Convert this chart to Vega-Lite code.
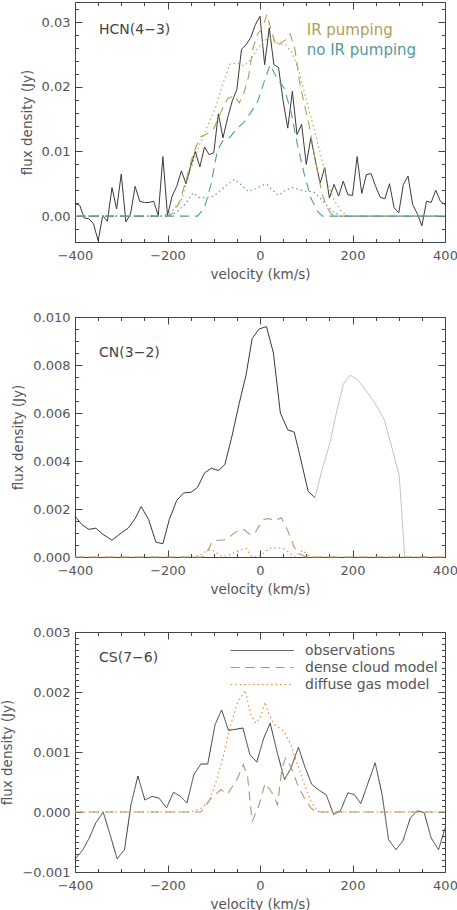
{
  "$schema": "https://vega.github.io/schema/vega-lite/v6.json",
  "padding": {"left": 0, "top": 1, "right": 0, "bottom": 2},
  "bounds": "flush",
  "spacing": 75,
  "resolve": {"scale": {"color": "independent", "strokeDash": "independent"}, "legend": {"color": "independent", "strokeDash": "independent"}},
  "config": {
    "font": "DejaVu Sans",
    "view": {"stroke": "#444444", "strokeWidth": 1},
    "axis": {"grid": false, "domain": false, "labelFontSize": 13, "labelColor": "#555555", "labelFont": "DejaVu Sans", "titleFont": "DejaVu Sans", "titleFontSize": 13.5, "titleFontWeight": "normal", "titleColor": "#555555", "tickColor": "#444444", "tickWidth": 1, "labelFlush": false, "labelOverlap": false},
    "line": {"strokeWidth": 1}
  },
  "datasets": {
    "p1obs": [
      {"v": -400, "flux": 0.0019}, {"v": -390, "flux": 0.0017}, {"v": -380, "flux": -0.0003}, {"v": -370, "flux": -0.0004}, {"v": -360, "flux": -0.0012}, {"v": -350, "flux": -0.0038}, {"v": -340, "flux": 0.0001}, {"v": -330, "flux": -0.0008}, {"v": -320, "flux": 0.0044}, {"v": -310, "flux": 0.0011}, {"v": -300, "flux": 0.0065}, {"v": -290, "flux": -0.0009}, {"v": -280, "flux": 0.0003}, {"v": -270, "flux": 0.0046}, {"v": -260, "flux": 0.0023}, {"v": -250, "flux": 0.0021}, {"v": -240, "flux": 0.0021}, {"v": -230, "flux": 0.0023}, {"v": -220, "flux": 0.0001}, {"v": -210, "flux": 0.0092}, {"v": -200, "flux": 0.0001}, {"v": -190, "flux": 0.0031}, {"v": -180, "flux": 0.0046}, {"v": -170, "flux": 0.0070}, {"v": -160, "flux": 0.0050}, {"v": -150, "flux": 0.0077}, {"v": -140, "flux": 0.0100}, {"v": -130, "flux": 0.0076}, {"v": -120, "flux": 0.0107}, {"v": -110, "flux": 0.0095}, {"v": -100, "flux": 0.0098}, {"v": -90, "flux": 0.0158}, {"v": -80, "flux": 0.0121}, {"v": -70, "flux": 0.0152}, {"v": -60, "flux": 0.0178}, {"v": -50, "flux": 0.0196}, {"v": -40, "flux": 0.0258}, {"v": -30, "flux": 0.0265}, {"v": -20, "flux": 0.0276}, {"v": -10, "flux": 0.0296}, {"v": 0, "flux": 0.0309}, {"v": 10, "flux": 0.0234}, {"v": 20, "flux": 0.0291}, {"v": 30, "flux": 0.0234}, {"v": 40, "flux": 0.0230}, {"v": 50, "flux": 0.0178}, {"v": 60, "flux": 0.0136}, {"v": 70, "flux": 0.0193}, {"v": 80, "flux": 0.0126}, {"v": 90, "flux": 0.0142}, {"v": 100, "flux": 0.0080}, {"v": 110, "flux": 0.0121}, {"v": 120, "flux": 0.0085}, {"v": 130, "flux": 0.0051}, {"v": 140, "flux": 0.0075}, {"v": 150, "flux": 0.0028}, {"v": 160, "flux": 0.0049}, {"v": 170, "flux": 0.0031}, {"v": 180, "flux": 0.0054}, {"v": 190, "flux": 0.0033}, {"v": 200, "flux": 0.0032}, {"v": 210, "flux": 0.0092}, {"v": 220, "flux": 0.0035}, {"v": 230, "flux": 0.0064}, {"v": 240, "flux": 0.0066}, {"v": 250, "flux": 0.0046}, {"v": 260, "flux": 0.0029}, {"v": 270, "flux": 0.0027}, {"v": 280, "flux": 0.0050}, {"v": 290, "flux": 0.0013}, {"v": 300, "flux": 0.0005}, {"v": 310, "flux": 0.0049}, {"v": 320, "flux": 0.0062}, {"v": 330, "flux": 0.0018}, {"v": 340, "flux": 0.0004}, {"v": 350, "flux": -0.0015}, {"v": 360, "flux": 0.0023}, {"v": 370, "flux": 0.0021}, {"v": 380, "flux": 0.0040}, {"v": 390, "flux": 0.0023}, {"v": 400, "flux": 0.0018}
    ],
    "p1mod": [
      {"model": "IR pumping", "comp": "dense", "v": -400, "flux": 0}, {"model": "IR pumping", "comp": "dense", "v": -200, "flux": 0}, {"model": "IR pumping", "comp": "dense", "v": -190, "flux": 0.0004}, {"model": "IR pumping", "comp": "dense", "v": -175, "flux": 0.002}, {"model": "IR pumping", "comp": "dense", "v": -160, "flux": 0.0055}, {"model": "IR pumping", "comp": "dense", "v": -145, "flux": 0.0095}, {"model": "IR pumping", "comp": "dense", "v": -130, "flux": 0.0122}, {"model": "IR pumping", "comp": "dense", "v": -115, "flux": 0.0127}, {"model": "IR pumping", "comp": "dense", "v": -100, "flux": 0.0135}, {"model": "IR pumping", "comp": "dense", "v": -85, "flux": 0.016}, {"model": "IR pumping", "comp": "dense", "v": -70, "flux": 0.0182}, {"model": "IR pumping", "comp": "dense", "v": -55, "flux": 0.0186}, {"model": "IR pumping", "comp": "dense", "v": -45, "flux": 0.0175}, {"model": "IR pumping", "comp": "dense", "v": -35, "flux": 0.019}, {"model": "IR pumping", "comp": "dense", "v": -25, "flux": 0.0215}, {"model": "IR pumping", "comp": "dense", "v": -15, "flux": 0.026}, {"model": "IR pumping", "comp": "dense", "v": -5, "flux": 0.0282}, {"model": "IR pumping", "comp": "dense", "v": 5, "flux": 0.029}, {"model": "IR pumping", "comp": "dense", "v": 15, "flux": 0.0312}, {"model": "IR pumping", "comp": "dense", "v": 25, "flux": 0.0285}, {"model": "IR pumping", "comp": "dense", "v": 35, "flux": 0.0263}, {"model": "IR pumping", "comp": "dense", "v": 45, "flux": 0.0268}, {"model": "IR pumping", "comp": "dense", "v": 55, "flux": 0.0272}, {"model": "IR pumping", "comp": "dense", "v": 65, "flux": 0.0282}, {"model": "IR pumping", "comp": "dense", "v": 75, "flux": 0.026}, {"model": "IR pumping", "comp": "dense", "v": 85, "flux": 0.021}, {"model": "IR pumping", "comp": "dense", "v": 95, "flux": 0.0175}, {"model": "IR pumping", "comp": "dense", "v": 105, "flux": 0.0145}, {"model": "IR pumping", "comp": "dense", "v": 115, "flux": 0.0105}, {"model": "IR pumping", "comp": "dense", "v": 125, "flux": 0.0065}, {"model": "IR pumping", "comp": "dense", "v": 135, "flux": 0.0033}, {"model": "IR pumping", "comp": "dense", "v": 145, "flux": 0.0013}, {"model": "IR pumping", "comp": "dense", "v": 155, "flux": 0.0003}, {"model": "IR pumping", "comp": "dense", "v": 165, "flux": 0}, {"model": "IR pumping", "comp": "dense", "v": 400, "flux": 0},
      {"model": "IR pumping", "comp": "diffuse", "v": -400, "flux": 0}, {"model": "IR pumping", "comp": "diffuse", "v": -210, "flux": 0}, {"model": "IR pumping", "comp": "diffuse", "v": -190, "flux": 0.0008}, {"model": "IR pumping", "comp": "diffuse", "v": -170, "flux": 0.0025}, {"model": "IR pumping", "comp": "diffuse", "v": -150, "flux": 0.0072}, {"model": "IR pumping", "comp": "diffuse", "v": -130, "flux": 0.0112}, {"model": "IR pumping", "comp": "diffuse", "v": -110, "flux": 0.0145}, {"model": "IR pumping", "comp": "diffuse", "v": -95, "flux": 0.017}, {"model": "IR pumping", "comp": "diffuse", "v": -80, "flux": 0.0205}, {"model": "IR pumping", "comp": "diffuse", "v": -65, "flux": 0.0235}, {"model": "IR pumping", "comp": "diffuse", "v": -50, "flux": 0.0237}, {"model": "IR pumping", "comp": "diffuse", "v": -35, "flux": 0.0232}, {"model": "IR pumping", "comp": "diffuse", "v": -20, "flux": 0.0242}, {"model": "IR pumping", "comp": "diffuse", "v": -5, "flux": 0.026}, {"model": "IR pumping", "comp": "diffuse", "v": 10, "flux": 0.0272}, {"model": "IR pumping", "comp": "diffuse", "v": 25, "flux": 0.0275}, {"model": "IR pumping", "comp": "diffuse", "v": 40, "flux": 0.0266}, {"model": "IR pumping", "comp": "diffuse", "v": 55, "flux": 0.0265}, {"model": "IR pumping", "comp": "diffuse", "v": 70, "flux": 0.0252}, {"model": "IR pumping", "comp": "diffuse", "v": 85, "flux": 0.0222}, {"model": "IR pumping", "comp": "diffuse", "v": 100, "flux": 0.018}, {"model": "IR pumping", "comp": "diffuse", "v": 115, "flux": 0.014}, {"model": "IR pumping", "comp": "diffuse", "v": 130, "flux": 0.0098}, {"model": "IR pumping", "comp": "diffuse", "v": 145, "flux": 0.0055}, {"model": "IR pumping", "comp": "diffuse", "v": 160, "flux": 0.0025}, {"model": "IR pumping", "comp": "diffuse", "v": 175, "flux": 0.0008}, {"model": "IR pumping", "comp": "diffuse", "v": 190, "flux": 0}, {"model": "IR pumping", "comp": "diffuse", "v": 400, "flux": 0},
      {"model": "no IR pumping", "comp": "dense", "v": -400, "flux": 0}, {"model": "no IR pumping", "comp": "dense", "v": -135, "flux": 0}, {"model": "no IR pumping", "comp": "dense", "v": -120, "flux": 0.0013}, {"model": "no IR pumping", "comp": "dense", "v": -106, "flux": 0.0049}, {"model": "no IR pumping", "comp": "dense", "v": -92, "flux": 0.0102}, {"model": "no IR pumping", "comp": "dense", "v": -80, "flux": 0.0117}, {"model": "no IR pumping", "comp": "dense", "v": -65, "flux": 0.0122}, {"model": "no IR pumping", "comp": "dense", "v": -50, "flux": 0.0135}, {"model": "no IR pumping", "comp": "dense", "v": -35, "flux": 0.0145}, {"model": "no IR pumping", "comp": "dense", "v": -20, "flux": 0.016}, {"model": "no IR pumping", "comp": "dense", "v": -5, "flux": 0.0177}, {"model": "no IR pumping", "comp": "dense", "v": 10, "flux": 0.021}, {"model": "no IR pumping", "comp": "dense", "v": 22, "flux": 0.0234}, {"model": "no IR pumping", "comp": "dense", "v": 35, "flux": 0.0215}, {"model": "no IR pumping", "comp": "dense", "v": 52, "flux": 0.0198}, {"model": "no IR pumping", "comp": "dense", "v": 67, "flux": 0.0162}, {"model": "no IR pumping", "comp": "dense", "v": 81, "flux": 0.011}, {"model": "no IR pumping", "comp": "dense", "v": 96, "flux": 0.0064}, {"model": "no IR pumping", "comp": "dense", "v": 110, "flux": 0.0028}, {"model": "no IR pumping", "comp": "dense", "v": 125, "flux": 0.0007}, {"model": "no IR pumping", "comp": "dense", "v": 135, "flux": 0}, {"model": "no IR pumping", "comp": "dense", "v": 400, "flux": 0},
      {"model": "no IR pumping", "comp": "diffuse", "v": -400, "flux": 0}, {"model": "no IR pumping", "comp": "diffuse", "v": -200, "flux": 0}, {"model": "no IR pumping", "comp": "diffuse", "v": -180, "flux": 0.0006}, {"model": "no IR pumping", "comp": "diffuse", "v": -160, "flux": 0.002}, {"model": "no IR pumping", "comp": "diffuse", "v": -145, "flux": 0.0036}, {"model": "no IR pumping", "comp": "diffuse", "v": -130, "flux": 0.0028}, {"model": "no IR pumping", "comp": "diffuse", "v": -115, "flux": 0.0029}, {"model": "no IR pumping", "comp": "diffuse", "v": -100, "flux": 0.0031}, {"model": "no IR pumping", "comp": "diffuse", "v": -85, "flux": 0.004}, {"model": "no IR pumping", "comp": "diffuse", "v": -70, "flux": 0.0049}, {"model": "no IR pumping", "comp": "diffuse", "v": -55, "flux": 0.0057}, {"model": "no IR pumping", "comp": "diffuse", "v": -40, "flux": 0.0048}, {"model": "no IR pumping", "comp": "diffuse", "v": -25, "flux": 0.0038}, {"model": "no IR pumping", "comp": "diffuse", "v": -10, "flux": 0.0042}, {"model": "no IR pumping", "comp": "diffuse", "v": 5, "flux": 0.0048}, {"model": "no IR pumping", "comp": "diffuse", "v": 15, "flux": 0.0049}, {"model": "no IR pumping", "comp": "diffuse", "v": 30, "flux": 0.0038}, {"model": "no IR pumping", "comp": "diffuse", "v": 40, "flux": 0.0032}, {"model": "no IR pumping", "comp": "diffuse", "v": 55, "flux": 0.004}, {"model": "no IR pumping", "comp": "diffuse", "v": 70, "flux": 0.0044}, {"model": "no IR pumping", "comp": "diffuse", "v": 85, "flux": 0.0041}, {"model": "no IR pumping", "comp": "diffuse", "v": 100, "flux": 0.0038}, {"model": "no IR pumping", "comp": "diffuse", "v": 115, "flux": 0.0038}, {"model": "no IR pumping", "comp": "diffuse", "v": 130, "flux": 0.0028}, {"model": "no IR pumping", "comp": "diffuse", "v": 145, "flux": 0.0016}, {"model": "no IR pumping", "comp": "diffuse", "v": 160, "flux": 0.0006}, {"model": "no IR pumping", "comp": "diffuse", "v": 175, "flux": 0}, {"model": "no IR pumping", "comp": "diffuse", "v": 400, "flux": 0}
    ],
    "p1lab": [
      {"model": "IR pumping", "v": 101, "flux": 0.0288},
      {"model": "no IR pumping", "v": 101, "flux": 0.0257}
    ],
    "p1title": [{"text": "HCN(4−3)", "v": -348, "flux": 0.0288}],
    "p2obs": [
      {"v": -400, "flux": 0.0017}, {"v": -385, "flux": 0.00135}, {"v": -370, "flux": 0.00115}, {"v": -355, "flux": 0.0012}, {"v": -340, "flux": 0.00095}, {"v": -320, "flux": 0.0007}, {"v": -300, "flux": 0.001}, {"v": -285, "flux": 0.0012}, {"v": -270, "flux": 0.0016}, {"v": -257, "flux": 0.0021}, {"v": -241, "flux": 0.00157}, {"v": -225, "flux": 0.00062}, {"v": -210, "flux": 0.00055}, {"v": -196, "flux": 0.00157}, {"v": -180, "flux": 0.00236}, {"v": -165, "flux": 0.00267}, {"v": -149, "flux": 0.0027}, {"v": -135, "flux": 0.0029}, {"v": -120, "flux": 0.0035}, {"v": -105, "flux": 0.0037}, {"v": -90, "flux": 0.0036}, {"v": -76, "flux": 0.00385}, {"v": -61, "flux": 0.005}, {"v": -45, "flux": 0.0064}, {"v": -30, "flux": 0.0076}, {"v": -17, "flux": 0.0091}, {"v": -2, "flux": 0.0095}, {"v": 14, "flux": 0.0096}, {"v": 29, "flux": 0.0085}, {"v": 44, "flux": 0.006}, {"v": 60, "flux": 0.0053}, {"v": 74, "flux": 0.0052}, {"v": 89, "flux": 0.004}, {"v": 104, "flux": 0.00274}, {"v": 119, "flux": 0.00247}
    ],
    "p2blend": [
      {"v": 119, "flux": 0.00247}, {"v": 135, "flux": 0.0037}, {"v": 152, "flux": 0.0048}, {"v": 165, "flux": 0.006}, {"v": 180, "flux": 0.0072}, {"v": 195, "flux": 0.00757}, {"v": 210, "flux": 0.0074}, {"v": 223, "flux": 0.0071}, {"v": 238, "flux": 0.0067}, {"v": 252, "flux": 0.0063}, {"v": 269, "flux": 0.0057}, {"v": 286, "flux": 0.0045}, {"v": 301, "flux": 0.0034}, {"v": 313, "flux": 0}
    ],
    "p2mod": [
      {"comp": "dense", "v": -400, "flux": 0}, {"comp": "dense", "v": -125, "flux": 0}, {"comp": "dense", "v": -115, "flux": 0.0002}, {"comp": "dense", "v": -102, "flux": 0.00067}, {"comp": "dense", "v": -90, "flux": 0.0007}, {"comp": "dense", "v": -77, "flux": 0.00072}, {"comp": "dense", "v": -62, "flux": 0.0009}, {"comp": "dense", "v": -48, "flux": 0.0011}, {"comp": "dense", "v": -35, "flux": 0.00115}, {"comp": "dense", "v": -23, "flux": 0.00095}, {"comp": "dense", "v": -12, "flux": 0.00095}, {"comp": "dense", "v": -2, "flux": 0.0013}, {"comp": "dense", "v": 9, "flux": 0.00157}, {"comp": "dense", "v": 20, "flux": 0.0016}, {"comp": "dense", "v": 31, "flux": 0.0015}, {"comp": "dense", "v": 46, "flux": 0.00164}, {"comp": "dense", "v": 60, "flux": 0.0011}, {"comp": "dense", "v": 74, "flux": 0.0004}, {"comp": "dense", "v": 88, "flux": 0.0001}, {"comp": "dense", "v": 100, "flux": 0}, {"comp": "dense", "v": 400, "flux": 0},
      {"comp": "diffuse", "v": -400, "flux": 0}, {"comp": "diffuse", "v": -145, "flux": 0}, {"comp": "diffuse", "v": -128, "flux": 0.0001}, {"comp": "diffuse", "v": -115, "flux": 0.00025}, {"comp": "diffuse", "v": -104, "flux": 0.0003}, {"comp": "diffuse", "v": -94, "flux": 0.00018}, {"comp": "diffuse", "v": -84, "flux": 0.00004}, {"comp": "diffuse", "v": -70, "flux": 0.00004}, {"comp": "diffuse", "v": -55, "flux": 0.0002}, {"comp": "diffuse", "v": -40, "flux": 0.0003}, {"comp": "diffuse", "v": -30, "flux": 0.00036}, {"comp": "diffuse", "v": -19, "flux": 0.00004}, {"comp": "diffuse", "v": -5, "flux": 0}, {"comp": "diffuse", "v": 6, "flux": 0.00012}, {"comp": "diffuse", "v": 20, "flux": 0.00036}, {"comp": "diffuse", "v": 38, "flux": 0.00039}, {"comp": "diffuse", "v": 52, "flux": 0.00033}, {"comp": "diffuse", "v": 62, "flux": 0.0002}, {"comp": "diffuse", "v": 74, "flux": 0}, {"comp": "diffuse", "v": 84, "flux": 0.00015}, {"comp": "diffuse", "v": 92, "flux": 0.00028}, {"comp": "diffuse", "v": 102, "flux": 0.0001}, {"comp": "diffuse", "v": 110, "flux": 0}, {"comp": "diffuse", "v": 400, "flux": 0}
    ],
    "p2title": [{"text": "CN(3−2)", "v": -348, "flux": 0.00848}],
    "p3": [
      {"series": "observations", "v": -400, "flux": -0.00079}, {"series": "observations", "v": -383, "flux": -0.00063}, {"series": "observations", "v": -369, "flux": -0.00043}, {"series": "observations", "v": -355, "flux": -0.00018}, {"series": "observations", "v": -339, "flux": 0.0}, {"series": "observations", "v": -324, "flux": -0.00038}, {"series": "observations", "v": -309, "flux": -0.00078}, {"series": "observations", "v": -293, "flux": -0.00063}, {"series": "observations", "v": -279, "flux": 0.00012}, {"series": "observations", "v": -264, "flux": 0.0006}, {"series": "observations", "v": -249, "flux": 0.0002}, {"series": "observations", "v": -233, "flux": 0.00026}, {"series": "observations", "v": -218, "flux": 0.00023}, {"series": "observations", "v": -202, "flux": 0.00007}, {"series": "observations", "v": -187, "flux": 0.00033}, {"series": "observations", "v": -172, "flux": 0.00026}, {"series": "observations", "v": -158, "flux": 0.00015}, {"series": "observations", "v": -143, "flux": 0.00062}, {"series": "observations", "v": -128, "flux": 0.0008}, {"series": "observations", "v": -113, "flux": 0.0008}, {"series": "observations", "v": -97, "flux": 0.00146}, {"series": "observations", "v": -83, "flux": 0.0017}, {"series": "observations", "v": -68, "flux": 0.00136}, {"series": "observations", "v": -52, "flux": 0.00138}, {"series": "observations", "v": -37, "flux": 0.0014}, {"series": "observations", "v": -22, "flux": 0.00096}, {"series": "observations", "v": -7, "flux": 0.00083}, {"series": "observations", "v": 8, "flux": 0.00123}, {"series": "observations", "v": 22, "flux": 0.00148}, {"series": "observations", "v": 37, "flux": 0.001}, {"series": "observations", "v": 53, "flux": 0.00054}, {"series": "observations", "v": 67, "flux": 0.00073}, {"series": "observations", "v": 83, "flux": 0.00108}, {"series": "observations", "v": 98, "flux": 0.00073}, {"series": "observations", "v": 112, "flux": 0.00046}, {"series": "observations", "v": 128, "flux": 0.00036}, {"series": "observations", "v": 143, "flux": 0.00029}, {"series": "observations", "v": 159, "flux": -0.00004}, {"series": "observations", "v": 174, "flux": 0.00002}, {"series": "observations", "v": 190, "flux": 0.00032}, {"series": "observations", "v": 204, "flux": 0.00029}, {"series": "observations", "v": 218, "flux": 0.00014}, {"series": "observations", "v": 233, "flux": 0.00047}, {"series": "observations", "v": 249, "flux": 0.00082}, {"series": "observations", "v": 264, "flux": 0.00029}, {"series": "observations", "v": 278, "flux": -0.00046}, {"series": "observations", "v": 294, "flux": -0.00063}, {"series": "observations", "v": 309, "flux": -0.00048}, {"series": "observations", "v": 325, "flux": -0.0001}, {"series": "observations", "v": 340, "flux": 0.00002}, {"series": "observations", "v": 355, "flux": -0.00001}, {"series": "observations", "v": 370, "flux": -0.00043}, {"series": "observations", "v": 386, "flux": -0.00063}, {"series": "observations", "v": 400, "flux": -0.00027},
      {"series": "dense cloud model", "v": -400, "flux": 0}, {"series": "dense cloud model", "v": -128, "flux": 0}, {"series": "dense cloud model", "v": -106, "flux": 0.00023}, {"series": "dense cloud model", "v": -85, "flux": 0.00037}, {"series": "dense cloud model", "v": -70, "flux": 0.0003}, {"series": "dense cloud model", "v": -48, "flux": 0.00057}, {"series": "dense cloud model", "v": -36, "flux": 0.00079}, {"series": "dense cloud model", "v": -27, "flux": 0.0006}, {"series": "dense cloud model", "v": -17, "flux": -0.00016}, {"series": "dense cloud model", "v": -2, "flux": 0.00012}, {"series": "dense cloud model", "v": 11, "flux": 0.00048}, {"series": "dense cloud model", "v": 26, "flux": 0.00032}, {"series": "dense cloud model", "v": 38, "flux": 0.00012}, {"series": "dense cloud model", "v": 47, "flux": 0.0007}, {"series": "dense cloud model", "v": 55, "flux": 0.0009}, {"series": "dense cloud model", "v": 67, "flux": 0.00075}, {"series": "dense cloud model", "v": 81, "flux": 0.00046}, {"series": "dense cloud model", "v": 96, "flux": 0.00023}, {"series": "dense cloud model", "v": 110, "flux": 0.00007}, {"series": "dense cloud model", "v": 121, "flux": 0}, {"series": "dense cloud model", "v": 400, "flux": 0},
      {"series": "diffuse gas model", "v": -400, "flux": 0}, {"series": "diffuse gas model", "v": -150, "flux": 0}, {"series": "diffuse gas model", "v": -128, "flux": 0.00006}, {"series": "diffuse gas model", "v": -110, "flux": 0.00018}, {"series": "diffuse gas model", "v": -92, "flux": 0.00057}, {"series": "diffuse gas model", "v": -77, "flux": 0.001}, {"series": "diffuse gas model", "v": -63, "flux": 0.00146}, {"series": "diffuse gas model", "v": -48, "flux": 0.00184}, {"series": "diffuse gas model", "v": -32, "flux": 0.00203}, {"series": "diffuse gas model", "v": -20, "flux": 0.00162}, {"series": "diffuse gas model", "v": -9, "flux": 0.00148}, {"series": "diffuse gas model", "v": 2, "flux": 0.0016}, {"series": "diffuse gas model", "v": 11, "flux": 0.00183}, {"series": "diffuse gas model", "v": 20, "flux": 0.00161}, {"series": "diffuse gas model", "v": 31, "flux": 0.00146}, {"series": "diffuse gas model", "v": 52, "flux": 0.00134}, {"series": "diffuse gas model", "v": 67, "flux": 0.00112}, {"series": "diffuse gas model", "v": 81, "flux": 0.00079}, {"series": "diffuse gas model", "v": 96, "flux": 0.00046}, {"series": "diffuse gas model", "v": 110, "flux": 0.00018}, {"series": "diffuse gas model", "v": 125, "flux": 0.00001}, {"series": "diffuse gas model", "v": 135, "flux": 0}, {"series": "diffuse gas model", "v": 400, "flux": 0}
    ],
    "p3title": [{"text": "CS(7−6)", "v": -348, "flux": 0.00256}]
  },
  "vconcat": [
    {
      "width": 370,
      "height": 240,
      "resolve": {"axis": {"x": "independent", "y": "independent"}},
      "layer": [
        {
          "data": {"name": "p1obs"},
          "mark": {"type": "line", "color": "#3a3a3a", "strokeWidth": 1},
          "encoding": {
            "x": {"field": "v", "type": "quantitative", "scale": {"domain": [-400, 400], "nice": false, "zero": false}, "axis": {"orient": "bottom", "values": [-400, -200, 0, 200, 400], "format": "d", "title": "velocity (km/s)", "tickSize": -7, "labelPadding": 14, "titlePadding": 5}},
            "y": {"field": "flux", "type": "quantitative", "scale": {"domain": [-0.004, 0.0331], "nice": false, "zero": false}, "axis": {"orient": "left", "values": [0, 0.01, 0.02, 0.03], "format": ".2f", "title": "flux density (Jy)", "tickSize": -7, "labelPadding": 12, "titlePadding": 7}}
          }
        },
        {
          "data": {"name": "p1mod"},
          "mark": {"type": "line", "strokeWidth": 1.1},
          "encoding": {
            "x": {"field": "v", "type": "quantitative", "scale": {"domain": [-400, 400], "nice": false, "zero": false}, "axis": {"orient": "top", "values": [-400, -200, 0, 200, 400], "labels": false, "title": null, "tickSize": -7}},
            "y": {"field": "flux", "type": "quantitative", "scale": {"domain": [-0.004, 0.0331], "nice": false, "zero": false}, "axis": {"orient": "right", "values": [0, 0.01, 0.02, 0.03], "labels": false, "title": null, "tickSize": -7}},
            "color": {"field": "model", "type": "nominal", "scale": {"domain": ["IR pumping", "no IR pumping"], "range": ["#b0a055", "#4e9c9e"]}, "legend": null},
            "strokeDash": {"field": "comp", "type": "nominal", "scale": {"domain": ["dense", "diffuse"], "range": [[9, 6], [1.5, 3]]}, "legend": null}
          }
        },
        {
          "data": {"name": "p1lab"},
          "mark": {"type": "text", "align": "left", "baseline": "middle", "fontSize": 15},
          "encoding": {
            "x": {"field": "v", "type": "quantitative", "scale": {"domain": [-400, 400], "nice": false, "zero": false}, "axis": {"orient": "bottom", "values": [-400, -350, -300, -250, -200, -150, -100, -50, 0, 50, 100, 150, 200, 250, 300, 350, 400], "labels": false, "title": null, "tickSize": -3.5}},
            "y": {"field": "flux", "type": "quantitative", "scale": {"domain": [-0.004, 0.0331], "nice": false, "zero": false}, "axis": {"orient": "left", "values": [-0.004, -0.002, 0, 0.002, 0.004, 0.006, 0.008, 0.01, 0.012, 0.014, 0.016, 0.018, 0.02, 0.022, 0.024, 0.026, 0.028, 0.03, 0.032], "labels": false, "title": null, "tickSize": -3.5}},
            "text": {"field": "model"},
            "color": {"field": "model", "type": "nominal", "legend": null}
          }
        },
        {
          "data": {"name": "p1title"},
          "mark": {"type": "text", "align": "left", "baseline": "middle", "fontSize": 14, "color": "#444444"},
          "encoding": {
            "x": {"field": "v", "type": "quantitative", "scale": {"domain": [-400, 400], "nice": false, "zero": false}, "axis": {"orient": "top", "values": [-400, -350, -300, -250, -200, -150, -100, -50, 0, 50, 100, 150, 200, 250, 300, 350, 400], "labels": false, "title": null, "tickSize": -3.5}},
            "y": {"field": "flux", "type": "quantitative", "scale": {"domain": [-0.004, 0.0331], "nice": false, "zero": false}, "axis": {"orient": "right", "values": [-0.004, -0.002, 0, 0.002, 0.004, 0.006, 0.008, 0.01, 0.012, 0.014, 0.016, 0.018, 0.02, 0.022, 0.024, 0.026, 0.028, 0.03, 0.032], "labels": false, "title": null, "tickSize": -3.5}},
            "text": {"field": "text"}
          }
        }
      ]
    },
    {
      "width": 370,
      "height": 240,
      "resolve": {"axis": {"x": "independent", "y": "independent"}},
      "layer": [
        {
          "data": {"name": "p2obs"},
          "mark": {"type": "line", "color": "#3a3a3a", "strokeWidth": 1},
          "encoding": {
            "x": {"field": "v", "type": "quantitative", "scale": {"domain": [-400, 400], "nice": false, "zero": false}, "axis": {"orient": "bottom", "values": [-400, -200, 0, 200, 400], "format": "d", "title": "velocity (km/s)", "tickSize": -7, "labelPadding": 14, "titlePadding": 5}},
            "y": {"field": "flux", "type": "quantitative", "scale": {"domain": [0, 0.01], "nice": false, "zero": false}, "axis": {"orient": "left", "values": [0, 0.002, 0.004, 0.006, 0.008, 0.01], "format": ".3f", "title": "flux density (Jy)", "tickSize": -7, "labelPadding": 12, "titlePadding": 7}}
          }
        },
        {
          "data": {"name": "p2blend"},
          "mark": {"type": "line", "color": "#c4c4c4", "strokeWidth": 1},
          "encoding": {
            "x": {"field": "v", "type": "quantitative", "scale": {"domain": [-400, 400], "nice": false, "zero": false}, "axis": {"orient": "top", "values": [-400, -200, 0, 200, 400], "labels": false, "title": null, "tickSize": -7}},
            "y": {"field": "flux", "type": "quantitative", "scale": {"domain": [0, 0.01], "nice": false, "zero": false}, "axis": {"orient": "right", "values": [0, 0.002, 0.004, 0.006, 0.008, 0.01], "labels": false, "title": null, "tickSize": -7}}
          }
        },
        {
          "data": {"name": "p2mod"},
          "mark": {"type": "line", "strokeWidth": 1.1},
          "encoding": {
            "x": {"field": "v", "type": "quantitative", "scale": {"domain": [-400, 400], "nice": false, "zero": false}, "axis": {"orient": "bottom", "values": [-400, -350, -300, -250, -200, -150, -100, -50, 0, 50, 100, 150, 200, 250, 300, 350, 400], "labels": false, "title": null, "tickSize": -3.5}},
            "y": {"field": "flux", "type": "quantitative", "scale": {"domain": [0, 0.01], "nice": false, "zero": false}, "axis": {"orient": "left", "values": [0, 0.0005, 0.001, 0.0015, 0.002, 0.0025, 0.003, 0.0035, 0.004, 0.0045, 0.005, 0.0055, 0.006, 0.0065, 0.007, 0.0075, 0.008, 0.0085, 0.009, 0.0095, 0.01], "labels": false, "title": null, "tickSize": -3.5}},
            "color": {"field": "comp", "type": "nominal", "scale": {"domain": ["dense", "diffuse"], "range": ["#a39d6c", "#f08228"]}, "legend": null},
            "strokeDash": {"field": "comp", "type": "nominal", "scale": {"domain": ["dense", "diffuse"], "range": [[9, 6], [1.5, 3]]}, "legend": null}
          }
        },
        {
          "data": {"name": "p2title"},
          "mark": {"type": "text", "align": "left", "baseline": "middle", "fontSize": 14, "color": "#444444"},
          "encoding": {
            "x": {"field": "v", "type": "quantitative", "scale": {"domain": [-400, 400], "nice": false, "zero": false}, "axis": {"orient": "top", "values": [-400, -350, -300, -250, -200, -150, -100, -50, 0, 50, 100, 150, 200, 250, 300, 350, 400], "labels": false, "title": null, "tickSize": -3.5}},
            "y": {"field": "flux", "type": "quantitative", "scale": {"domain": [0, 0.01], "nice": false, "zero": false}, "axis": {"orient": "right", "values": [0, 0.0005, 0.001, 0.0015, 0.002, 0.0025, 0.003, 0.0035, 0.004, 0.0045, 0.005, 0.0055, 0.006, 0.0065, 0.007, 0.0075, 0.008, 0.0085, 0.009, 0.0095, 0.01], "labels": false, "title": null, "tickSize": -3.5}},
            "text": {"field": "text"}
          }
        }
      ]
    },
    {
      "width": 370,
      "height": 240,
      "resolve": {"axis": {"x": "independent", "y": "independent"}},
      "layer": [
        {
          "data": {"name": "p3"},
          "transform": [{"filter": "datum.series === 'observations'"}],
          "mark": {"type": "line", "strokeWidth": 1},
          "encoding": {
            "x": {"field": "v", "type": "quantitative", "scale": {"domain": [-400, 400], "nice": false, "zero": false}, "axis": {"orient": "bottom", "values": [-400, -200, 0, 200, 400], "format": "d", "title": "velocity (km/s)", "tickSize": -7, "labelPadding": 14, "titlePadding": 5}},
            "y": {"field": "flux", "type": "quantitative", "scale": {"domain": [-0.001, 0.003], "nice": false, "zero": false}, "axis": {"orient": "left", "values": [-0.001, 0, 0.001, 0.002, 0.003], "format": ".3f", "title": "flux density (Jy)", "tickSize": -7, "labelPadding": 12, "titlePadding": 7}},
            "color": {"field": "series", "type": "nominal", "scale": {"domain": ["observations", "dense cloud model", "diffuse gas model"], "range": ["#3a3a3a", "#a39d6c", "#f08228"]}, "legend": {"orient": "none", "legendX": 155, "legendY": 10, "title": null, "symbolType": "M-1,0H7", "symbolSize": 248, "symbolStrokeWidth": 1.2, "labelFontSize": 14, "labelColor": "#555555", "labelOffset": 58, "rowPadding": 1, "padding": 0}},
            "strokeDash": {"field": "series", "type": "nominal", "scale": {"domain": ["observations", "dense cloud model", "diffuse gas model"], "range": [[1, 0], [9, 6], [1.5, 3]]}, "legend": {"orient": "none", "legendX": 155, "legendY": 10, "title": null, "symbolType": "M-1,0H7", "symbolSize": 248, "symbolStrokeWidth": 1.2, "labelFontSize": 14, "labelColor": "#555555", "labelOffset": 58, "rowPadding": 1, "padding": 0}}
          }
        },
        {
          "data": {"name": "p3"},
          "transform": [{"filter": "datum.series === 'dense cloud model'"}],
          "mark": {"type": "line", "strokeWidth": 1.1},
          "encoding": {
            "x": {"field": "v", "type": "quantitative", "scale": {"domain": [-400, 400], "nice": false, "zero": false}, "axis": {"orient": "top", "values": [-400, -200, 0, 200, 400], "labels": false, "title": null, "tickSize": -7}},
            "y": {"field": "flux", "type": "quantitative", "scale": {"domain": [-0.001, 0.003], "nice": false, "zero": false}, "axis": {"orient": "right", "values": [-0.001, 0, 0.001, 0.002, 0.003], "labels": false, "title": null, "tickSize": -7}},
            "color": {"field": "series", "type": "nominal", "legend": null},
            "strokeDash": {"field": "series", "type": "nominal", "legend": null}
          }
        },
        {
          "data": {"name": "p3"},
          "transform": [{"filter": "datum.series === 'diffuse gas model'"}],
          "mark": {"type": "line", "strokeWidth": 1.1},
          "encoding": {
            "x": {"field": "v", "type": "quantitative", "scale": {"domain": [-400, 400], "nice": false, "zero": false}, "axis": {"orient": "bottom", "values": [-400, -350, -300, -250, -200, -150, -100, -50, 0, 50, 100, 150, 200, 250, 300, 350, 400], "labels": false, "title": null, "tickSize": -3.5}},
            "y": {"field": "flux", "type": "quantitative", "scale": {"domain": [-0.001, 0.003], "nice": false, "zero": false}, "axis": {"orient": "left", "values": [-0.001, -0.0009, -0.0008, -0.0007, -0.0006, -0.0005, -0.0004, -0.0003, -0.0002, -0.0001, 0, 0.0001, 0.0002, 0.0003, 0.0004, 0.0005, 0.0006, 0.0007, 0.0008, 0.0009, 0.001, 0.0011, 0.0012, 0.0013, 0.0014, 0.0015, 0.0016, 0.0017, 0.0018, 0.0019, 0.002, 0.0021, 0.0022, 0.0023, 0.0024, 0.0025, 0.0026, 0.0027, 0.0028, 0.0029, 0.003], "labels": false, "title": null, "tickSize": -3.5}},
            "color": {"field": "series", "type": "nominal", "legend": null},
            "strokeDash": {"field": "series", "type": "nominal", "legend": null}
          }
        },
        {
          "data": {"name": "p3title"},
          "mark": {"type": "text", "align": "left", "baseline": "middle", "fontSize": 14, "color": "#444444"},
          "encoding": {
            "x": {"field": "v", "type": "quantitative", "scale": {"domain": [-400, 400], "nice": false, "zero": false}, "axis": {"orient": "top", "values": [-400, -350, -300, -250, -200, -150, -100, -50, 0, 50, 100, 150, 200, 250, 300, 350, 400], "labels": false, "title": null, "tickSize": -3.5}},
            "y": {"field": "flux", "type": "quantitative", "scale": {"domain": [-0.001, 0.003], "nice": false, "zero": false}, "axis": {"orient": "right", "values": [-0.001, -0.0009, -0.0008, -0.0007, -0.0006, -0.0005, -0.0004, -0.0003, -0.0002, -0.0001, 0, 0.0001, 0.0002, 0.0003, 0.0004, 0.0005, 0.0006, 0.0007, 0.0008, 0.0009, 0.001, 0.0011, 0.0012, 0.0013, 0.0014, 0.0015, 0.0016, 0.0017, 0.0018, 0.0019, 0.002, 0.0021, 0.0022, 0.0023, 0.0024, 0.0025, 0.0026, 0.0027, 0.0028, 0.0029, 0.003], "labels": false, "title": null, "tickSize": -3.5}},
            "text": {"field": "text"}
          }
        }
      ]
    }
  ]
}
